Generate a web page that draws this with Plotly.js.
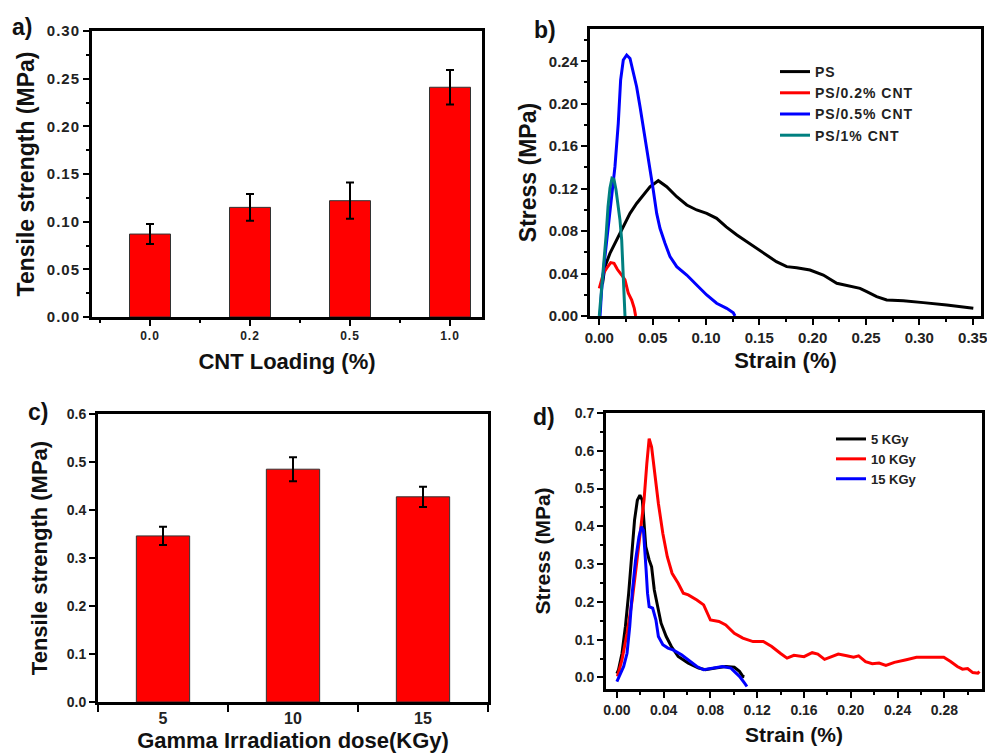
<!DOCTYPE html>
<html>
<head>
<meta charset="utf-8">
<script src="https://cdn.plot.ly/plotly-3.0.1.min.js"></script>
<style>
html,body{margin:0;padding:0;background:#fff;}
#chart{width:987px;height:753px;}
#chart .xtick text, #chart .ytick text {letter-spacing: 1px;}
text.legendtext {letter-spacing: 1px;}
</style>
</head>
<body>
<div id="chart"></div>
<script>
// ---------- Panel a data ----------
const cntLoading = ['0.0', '0.2', '0.5', '1.0'];
const cntStrength = [0.087, 0.115, 0.122, 0.241];
const cntStrengthErr = [0.0105, 0.014, 0.019, 0.018];

// ---------- Panel b data (stress-strain, CNT) ----------
const psStrain = [0.003, 0.0053, 0.010, 0.0163, 0.0225, 0.0288, 0.035, 0.0413, 0.0475, 0.0553, 0.0632, 0.0726, 0.082, 0.0913, 0.1007, 0.110, 0.119, 0.129, 0.138, 0.1476, 0.157, 0.166, 0.1757, 0.185, 0.1975, 0.21, 0.2226, 0.232, 0.2444, 0.2507, 0.26, 0.2694, 0.285, 0.3037, 0.3257, 0.3506];
const psStress = [0.030, 0.0465, 0.059, 0.0716, 0.0841, 0.0967, 0.106, 0.114, 0.1218, 0.1275, 0.1218, 0.1124, 0.1046, 0.0999, 0.0967, 0.092, 0.084, 0.0763, 0.070, 0.0637, 0.0575, 0.0512, 0.0465, 0.0455, 0.0433, 0.0386, 0.0308, 0.0285, 0.026, 0.0229, 0.0182, 0.0151, 0.0144, 0.0126, 0.0104, 0.0072];

const ps02Strain = [0.0, 0.0038, 0.0069, 0.0107, 0.0138, 0.0169, 0.021, 0.0241, 0.0272, 0.0304, 0.0328, 0.0341];
const ps02Stress = [0.026, 0.040, 0.045, 0.0503, 0.0497, 0.044, 0.0386, 0.034, 0.0214, 0.015, 0.0072, 0.0];

const ps05Strain = [0.0007, 0.0022, 0.0053, 0.0084, 0.0116, 0.0147, 0.0178, 0.020, 0.0225, 0.0257, 0.0288, 0.0319, 0.035, 0.0382, 0.0413, 0.0444, 0.0475, 0.0506, 0.0538, 0.0569, 0.0616, 0.0663, 0.0726, 0.082, 0.0913, 0.1007, 0.110, 0.1194, 0.1256, 0.1272];
const ps05Stress = [0.0, 0.0245, 0.0559, 0.0841, 0.1124, 0.1407, 0.1815, 0.2223, 0.2412, 0.2459, 0.2427, 0.2286, 0.216, 0.1972, 0.1783, 0.1595, 0.1375, 0.1187, 0.0967, 0.0826, 0.0685, 0.0559, 0.0465, 0.0386, 0.0292, 0.0198, 0.012, 0.0072, 0.0031, 0.0];

const ps1Strain = [0.0, 0.0022, 0.0044, 0.0063, 0.0082, 0.010, 0.0119, 0.0138, 0.0157, 0.0175, 0.0194, 0.021, 0.0222, 0.0232, 0.0241];
const ps1Stress = [0.0, 0.0245, 0.0465, 0.0747, 0.103, 0.1203, 0.1297, 0.1287, 0.1187, 0.1062, 0.0904, 0.0716, 0.0465, 0.0214, 0.0];

// ---------- Panel c data ----------
const gammaDose = ['5', '10', '15'];
const gammaStrength = [0.346, 0.485, 0.4275];
const gammaStrengthErr = [0.019, 0.025, 0.021];

// ---------- Panel d data (stress-strain, dose) ----------
const k5Strain = [0.0, 0.0014, 0.0044, 0.0073, 0.0101, 0.0131, 0.0151, 0.0175, 0.0197, 0.0218, 0.0232, 0.0247, 0.0276, 0.0297, 0.032, 0.0349, 0.0378, 0.0422, 0.0466, 0.0524, 0.0611, 0.0699, 0.0756, 0.0844, 0.0931, 0.1004, 0.1048, 0.1077, 0.109];
const k5Stress = [0.010, 0.020, 0.064, 0.135, 0.223, 0.3286, 0.4165, 0.469, 0.4826, 0.469, 0.408, 0.346, 0.311, 0.293, 0.2316, 0.1875, 0.1436, 0.1083, 0.0819, 0.0555, 0.038, 0.0248, 0.0203, 0.0248, 0.029, 0.027, 0.016, 0.003, 0.002];

const k10Strain = [0.0005, 0.0044, 0.0087, 0.0131, 0.0169, 0.0204, 0.0232, 0.0256, 0.0276, 0.0297, 0.032, 0.0355, 0.0393, 0.0431, 0.0472, 0.0524, 0.0568, 0.0611, 0.0684, 0.0742, 0.080, 0.0873, 0.0931, 0.1004, 0.1077, 0.1164, 0.1252, 0.1324, 0.1397, 0.1455, 0.1514, 0.160, 0.167, 0.1718, 0.1776, 0.182, 0.1893, 0.1966, 0.2024, 0.2067, 0.2126, 0.2184, 0.2242, 0.230, 0.2373, 0.2475, 0.2562, 0.2679, 0.2795, 0.2853, 0.2911, 0.2955, 0.2999, 0.3043, 0.3086, 0.310];
const k10Stress = [0.003, 0.047, 0.117, 0.205, 0.302, 0.39, 0.469, 0.566, 0.632, 0.61, 0.5486, 0.4606, 0.381, 0.3196, 0.2757, 0.2493, 0.223, 0.2184, 0.205, 0.192, 0.152, 0.148, 0.139, 0.117, 0.104, 0.095, 0.095, 0.082, 0.064, 0.051, 0.0585, 0.055, 0.0655, 0.062, 0.048, 0.0533, 0.062, 0.0576, 0.0533, 0.057, 0.042, 0.0365, 0.038, 0.0317, 0.040, 0.047, 0.0533, 0.0533, 0.0533, 0.0423, 0.029, 0.022, 0.0236, 0.0128, 0.011, 0.016];

const k15Strain = [0.0, 0.0029, 0.0058, 0.0087, 0.011, 0.0131, 0.016, 0.0189, 0.021, 0.0227, 0.0238, 0.025, 0.0262, 0.0276, 0.0306, 0.0334, 0.0355, 0.0393, 0.0437, 0.048, 0.0553, 0.0611, 0.0684, 0.0742, 0.0815, 0.0902, 0.0975, 0.1048, 0.1092, 0.1112];
const k15Stress = [-0.011, 0.007, 0.029, 0.064, 0.135, 0.223, 0.311, 0.3724, 0.399, 0.39, 0.346, 0.2845, 0.223, 0.1875, 0.1833, 0.152, 0.1083, 0.0864, 0.0776, 0.073, 0.060, 0.0467, 0.029, 0.0203, 0.0248, 0.029, 0.0248, 0.003, -0.015, -0.024];

// ---------- Styling ----------
const FAM = 'Liberation Sans, Arial, sans-serif';
const tickFont = (s) => ({family: FAM, size: s, color: '#222', weight: 'bold'});
const titleFont = (s) => ({family: FAM, size: s, color: '#111', weight: 'bold'});
const axBase = {
  showline: true, linecolor: '#000', linewidth: 3, mirror: true,
  ticks: 'outside', tickcolor: '#000', tickwidth: 2, ticklen: 6,
  showgrid: false, zeroline: false, fixedrange: true, ticklabeloverflow: 'allow'
};
const minorTicks = (d) => ({dtick: d, ticks: 'outside', ticklen: 3, tickwidth: 2, tickcolor: '#000'});
const xIdxA = cntLoading.map((_, i) => i);
const xIdxC = gammaDose.map((_, i) => i);

const traces = [
  {type: 'bar', x: xIdxA, y: cntStrength, width: 0.41, xaxis: 'x', yaxis: 'y', showlegend: false,
   marker: {color: '#ff0000', line: {color: '#333', width: 1}},
   error_y: {type: 'data', array: cntStrengthErr, visible: true, color: '#000', thickness: 2, width: 4}},
  {type: 'scatter', mode: 'lines', x: psStrain, y: psStress, name: 'PS', xaxis: 'x2', yaxis: 'y2', legend: 'legend',
   line: {color: '#000000', width: 3}},
  {type: 'scatter', mode: 'lines', x: ps02Strain, y: ps02Stress, name: 'PS/0.2% CNT', xaxis: 'x2', yaxis: 'y2', legend: 'legend',
   line: {color: '#ff0000', width: 3}},
  {type: 'scatter', mode: 'lines', x: ps05Strain, y: ps05Stress, name: 'PS/0.5% CNT', xaxis: 'x2', yaxis: 'y2', legend: 'legend',
   line: {color: '#0000ff', width: 3}},
  {type: 'scatter', mode: 'lines', x: ps1Strain, y: ps1Stress, name: 'PS/1% CNT', xaxis: 'x2', yaxis: 'y2', legend: 'legend',
   line: {color: '#008080', width: 3}},
  {type: 'bar', x: xIdxC, y: gammaStrength, width: 0.41, xaxis: 'x3', yaxis: 'y3', showlegend: false,
   marker: {color: '#ff0000', line: {color: '#333', width: 1}},
   error_y: {type: 'data', array: gammaStrengthErr, visible: true, color: '#000', thickness: 2, width: 4}},
  {type: 'scatter', mode: 'lines', x: k5Strain, y: k5Stress, name: '5 KGy', xaxis: 'x4', yaxis: 'y4', legend: 'legend2',
   line: {color: '#000000', width: 3}},
  {type: 'scatter', mode: 'lines', x: k10Strain, y: k10Stress, name: '10 KGy', xaxis: 'x4', yaxis: 'y4', legend: 'legend2',
   line: {color: '#ff0000', width: 3}},
  {type: 'scatter', mode: 'lines', x: k15Strain, y: k15Stress, name: '15 KGy', xaxis: 'x4', yaxis: 'y4', legend: 'legend2',
   line: {color: '#0000ff', width: 3}}
];

const W = 987, H = 753;
const dx = (a, b) => [a / W, b / W];
const dy = (top, bot) => [1 - bot / H, 1 - top / H];

const layout = {
  width: W, height: H,
  margin: {l: 0, r: 0, t: 0, b: 0},
  paper_bgcolor: '#fff', plot_bgcolor: '#fff',
  font: {family: FAM, color: '#111'},
  // Panel a
  xaxis: Object.assign({}, axBase, {domain: dx(92, 482), anchor: 'y', range: [-0.58, 3.32],
    tickmode: 'array', tickvals: xIdxA, ticktext: cntLoading, tickfont: tickFont(12),
    minor: {tick0: 0.5, dtick: 1, ticks: 'outside', ticklen: 3, tickwidth: 2, tickcolor: '#000'},
    title: {text: 'CNT Loading (%)', font: titleFont(22), standoff: 12}}),
  yaxis: Object.assign({}, axBase, {domain: dy(31, 317), anchor: 'x', range: [0, 0.30],
    dtick: 0.05, tickformat: '.2f', tickfont: tickFont(15), minor: minorTicks(0.025),
    title: {text: 'Tensile strength (MPa)', font: titleFont(23), standoff: 10}}),
  // Panel b
  xaxis2: Object.assign({}, axBase, {domain: dx(590, 981), anchor: 'y2', range: [-0.0087, 0.3578],
    dtick: 0.05, tickformat: '.2f', tickfont: tickFont(15), minor: minorTicks(0.025),
    title: {text: 'Strain (%)', font: titleFont(22), standoff: 8}}),
  yaxis2: Object.assign({}, axBase, {domain: dy(29, 316), anchor: 'x2', range: [0, 0.2704],
    dtick: 0.04, tickformat: '.2f', tickfont: tickFont(15), minor: minorTicks(0.02),
    title: {text: 'Stress (MPa)', font: titleFont(23), standoff: 6}}),
  // Panel c
  xaxis3: Object.assign({}, axBase, {domain: dx(98, 488), anchor: 'y3', range: [-0.5, 2.5],
    tickmode: 'array', tickvals: xIdxC, ticktext: gammaDose, ticklen: 0, tickfont: tickFont(16),
    minor: {tick0: 0.5, dtick: 1, ticks: 'outside', ticklen: 7, tickwidth: 2, tickcolor: '#000'},
    title: {text: 'Gamma Irradiation dose(KGy)', font: titleFont(22), standoff: 7}}),
  yaxis3: Object.assign({}, axBase, {domain: dy(414, 702), anchor: 'x3', range: [0, 0.6],
    dtick: 0.1, tickformat: '.1f', tickfont: tickFont(14),
    title: {text: 'Tensile strength (MPa)', font: titleFont(22), standoff: 14}}),
  // Panel d
  xaxis4: Object.assign({}, axBase, {domain: dx(606, 982), anchor: 'y4', range: [-0.0093, 0.3122],
    dtick: 0.04, tickformat: '.2f', tickfont: tickFont(14), minor: minorTicks(0.02),
    title: {text: 'Strain (%)', font: titleFont(21), standoff: 11}}),
  yaxis4: Object.assign({}, axBase, {domain: dy(413, 689), anchor: 'x4', range: [-0.0306, 0.70],
    dtick: 0.1, tickformat: '.1f', tickfont: tickFont(14), minor: minorTicks(0.05),
    title: {text: 'Stress (MPa)', font: titleFont(21), standoff: 19}}),
  legend: {x: 775 / W, y: 1 - 56 / H, xanchor: 'left', yanchor: 'top', bgcolor: 'rgba(0,0,0,0)',
    borderwidth: 0, tracegroupgap: 0, font: {family: FAM, size: 14, color: '#222', weight: 'bold'}},
  legend2: {x: 831 / W, y: 1 - 424 / H, xanchor: 'left', yanchor: 'top', bgcolor: 'rgba(0,0,0,0)',
    borderwidth: 0, tracegroupgap: 0, font: {family: FAM, size: 13, color: '#222', weight: 'bold'}},
  annotations: [
    {text: 'a)', x: 10 / W, y: 1 - 27 / H, xref: 'paper', yref: 'paper', xanchor: 'left', yanchor: 'middle', showarrow: false, font: titleFont(23)},
    {text: 'b)', x: 532 / W, y: 1 - 30 / H, xref: 'paper', yref: 'paper', xanchor: 'left', yanchor: 'middle', showarrow: false, font: titleFont(23)},
    {text: 'c)', x: 26 / W, y: 1 - 412 / H, xref: 'paper', yref: 'paper', xanchor: 'left', yanchor: 'middle', showarrow: false, font: titleFont(23)},
    {text: 'd)', x: 531 / W, y: 1 - 417 / H, xref: 'paper', yref: 'paper', xanchor: 'left', yanchor: 'middle', showarrow: false, font: titleFont(23)}
  ]
};

Plotly.newPlot('chart', traces, layout, {staticPlot: true, displayModeBar: false});
</script>
</body>
</html>
